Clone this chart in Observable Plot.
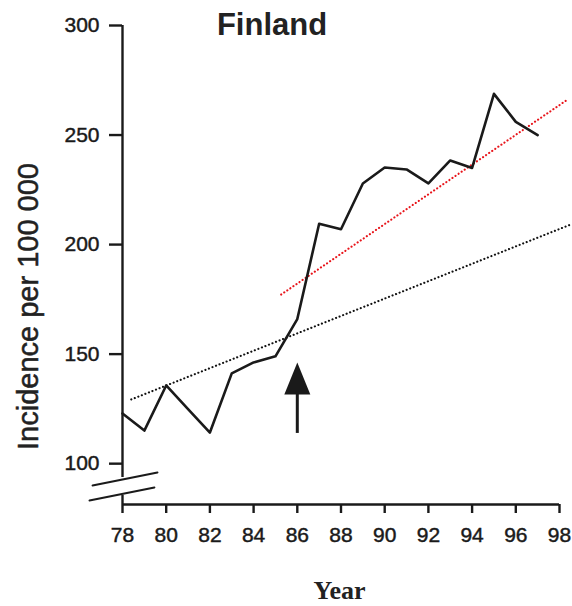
<!DOCTYPE html>
<html>
<head>
<meta charset="utf-8">
<script src="https://cdn.jsdelivr.net/npm/d3@7"></script>
<script src="https://cdn.jsdelivr.net/npm/@observablehq/plot@0.6"></script>
<style>
  html, body { margin: 0; padding: 0; background: #fff; }
  #chart svg { display: block; }
  /* slightly heavier tick labels and axis title */
  #chart g[aria-label="x-axis tick label"] text,
  #chart g[aria-label="y-axis tick label"] text { stroke: #1a1a1a; stroke-width: 0.45px; }
  #chart g.y-title text { stroke: #222; stroke-width: 0.5px; }
</style>
</head>
<body>
<div id="chart"></div>
<script>
// Annual incidence per 100 000, Finland, 1978–1997
const years = [78, 79, 80, 81, 82, 83, 84, 85, 86, 87, 88, 89, 90, 91, 92, 93, 94, 95, 96, 97];
const incidence = [122.9, 115.1, 135.7, 124.9, 114.2, 141.2, 146.2, 149.0, 166.0, 209.5,
                   207.0, 227.9, 235.2, 234.3, 227.9, 238.4, 235.0, 268.8, 256.0, 250.0];

// Linear trend over the whole period (black dotted)
const trendAllYears = [78.4, 98.5];
const trendAllValues = [129.3, 209.1];

// Linear trend from 1985 on (red dotted)
const trendRecentYears = [85.26, 98.37];
const trendRecentValues = [177.2, 266.2];

// Arrow marking 1986
const arrowYear = 86;
const arrowTip = 146.2;
const arrowHeadBase = 131.6;
const arrowTail = 113.8;

// Axis ticks
const xTicks = [78, 80, 82, 84, 86, 88, 90, 92, 94, 96, 98];
const yTicks = [100, 150, 200, 250, 300];
const xDomain = [78, 98];
const yDomain = [81.36, 300];

// Broken y axis: drawn pieces and the two slanted break strokes
const axisPieceFrom = [300, 85.5];
const axisPieceTo = [93.7, 81.36];
const breakStrokeYears = [[76.63, 79.6], [76.49, 79.46]];
const breakStrokeValues = [[90.0, 96.0], [83.2, 89.1]];

const titleText = "Finland";
const yLabelText = "Incidence per 100 000";
const xLabelText = "Year";

const series = years.map((year, i) => ({year, value: incidence[i]}));
const trendAll = trendAllYears.map((year, i) => ({year, value: trendAllValues[i]}));
const trendRecent = trendRecentYears.map((year, i) => ({year, value: trendRecentValues[i]}));
const axisPieces = axisPieceFrom.map((from, i) => ({from, to: axisPieceTo[i]}));
const breakStrokes = breakStrokeYears.flatMap((ys, k) =>
  ys.map((year, i) => ({stroke: k, year, value: breakStrokeValues[k][i]})));
const arrow = [{year: arrowYear, tip: arrowTip, base: arrowHeadBase, tail: arrowTail}];

// Filled isosceles arrow head with its tip at the anchor point
const arrowHead = {
  draw(context) {
    context.moveTo(0, 0);
    context.lineTo(-13, 32);
    context.lineTo(13, 32);
    context.closePath();
  }
};

const ink = "#1a1a1a";

const chart = Plot.plot({
  width: 572,
  height: 606,
  marginTop: 25,
  marginRight: 13,
  marginBottom: 102,
  marginLeft: 122,
  x: {domain: xDomain},
  y: {domain: yDomain},
  style: {
    fontFamily: "'Liberation Sans', Arial, sans-serif",
    color: ink,
    background: "#fff",
    overflow: "visible"
  },
  marks: [
    Plot.axisX({ticks: xTicks, tickSize: 9, tickPadding: 14, fontSize: 21, strokeWidth: 2.4,
                tickFormat: d => String(d), label: null}),
    Plot.axisY({ticks: yTicks, tickSize: 13, tickPadding: 10, fontSize: 21, strokeWidth: 2.4,
                label: null}),
    // x axis line
    Plot.ruleY([yDomain[0]], {x1: xDomain[0], x2: xDomain[1], stroke: ink, strokeWidth: 2.4}),
    // y axis line, interrupted at the break
    Plot.ruleX(axisPieces, {x: () => xDomain[0], y1: "from", y2: "to", stroke: ink, strokeWidth: 2.4}),
    Plot.line(breakStrokes, {x: "year", y: "value", z: "stroke", stroke: ink, strokeWidth: 2}),
    // trend lines
    Plot.line(trendAll, {x: "year", y: "value", stroke: "#111", strokeWidth: 2.1,
                         strokeDasharray: "0.1,3.7", strokeLinecap: "round"}),
    Plot.line(trendRecent, {x: "year", y: "value", stroke: "#e8141a", strokeWidth: 2.1,
                            strokeDasharray: "0.1,3.6", strokeLinecap: "round"}),
    // incidence
    Plot.line(series, {x: "year", y: "value", stroke: ink, strokeWidth: 2.6,
                       strokeLinejoin: "round", strokeLinecap: "round"}),
    // arrow at 1986
    Plot.ruleX(arrow, {x: "year", y1: "tail", y2: "base", stroke: ink, strokeWidth: 3}),
    Plot.dot(arrow, {x: "year", y: "tip", symbol: arrowHead, r: 16, fill: ink, stroke: null}),
    // title and axis labels
    Plot.text([titleText], {text: d => d, frameAnchor: "top", dx: -69, dy: 9, lineAnchor: "bottom",
                            fontSize: 31, fontWeight: "bold", fill: "#222"}),
    Plot.text([yLabelText], {text: d => d, frameAnchor: "left", rotate: -90, dx: -85, dy: 41.5,
                             textAnchor: "middle", lineAnchor: "bottom", fontSize: 29, fill: "#222",
                             className: "y-title"}),
    Plot.text([xLabelText], {text: d => d, frameAnchor: "bottom", dx: -1.5, dy: 94, lineAnchor: "bottom",
                             fontSize: 26, fontWeight: "bold", fill: "#222",
                             fontFamily: "'Liberation Serif', 'Times New Roman', serif"})
  ]
});

document.getElementById("chart").append(chart);
</script>
</body>
</html>
